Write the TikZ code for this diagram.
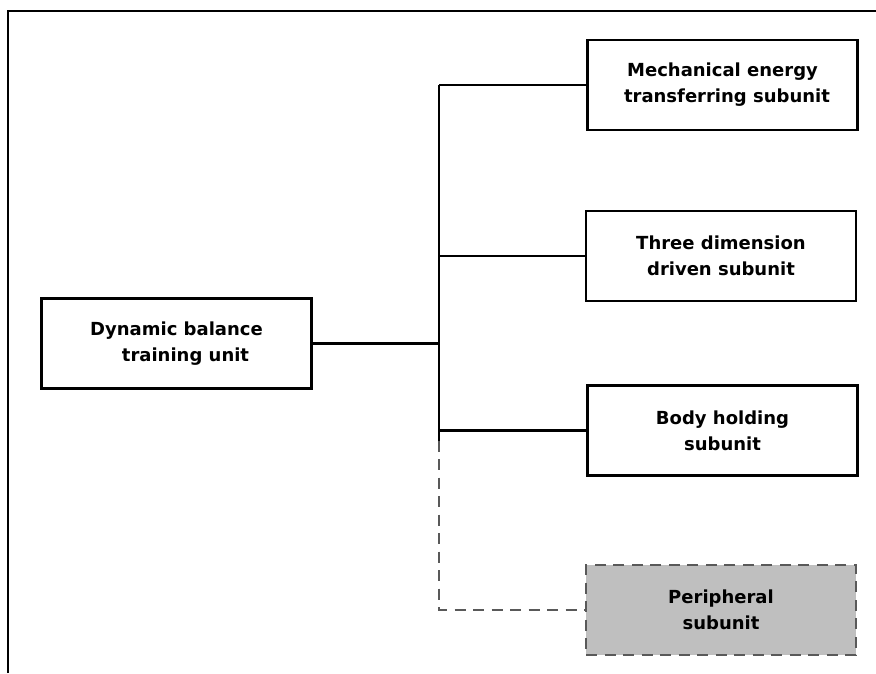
\documentclass[tikz,border=0pt]{standalone}
\usepackage{fontspec}
\setmainfont{DejaVu Sans}
\usetikzlibrary{calc}
\tikzset{
    unitbox/.style={draw, line width=2.8pt, minimum width=270pt, minimum height=90pt,
        align=center, font=\fontsize{18}{26}\selectfont\bfseries},
    extbox/.style={unitbox, draw=black!65, fill=black!25, dash pattern=on 11pt off 7.5pt},
    link/.style={line width=2.5pt},
    extlink/.style={link, draw=black!65, dash pattern=on 11pt off 7.5pt},
    frame/.style={line width=2pt},
}

\begin{document}
\begin{tikzpicture}[x=1pt, y=-1pt]
    \useasboundingbox (0,0) rectangle (876,673);
    \draw[frame] (8,673) -- (8,11) -- (876,11);
    \node[unitbox] (dynunit) at (176.5,343.5) {Dynamic balance\\\hspace*{1em}training unit};
    \node[unitbox] (mech) at (722.5,85) {Mechanical energy\\\hspace*{0.5em}transferring subunit};
    \node[unitbox] (threed) at (721,256) {Three dimension\\driven subunit};
    \node[unitbox] (body) at (722.5,430.5) {Body holding\\subunit};
    \node[extbox] (periph) at (721,610) {Peripheral\\subunit};
    \coordinate (trunk) at (439,0);
    \coordinate (trunkend) at ($(body.west -| trunk)+(0,10)$);
    \draw[link] (dynunit.east) -- (dynunit.east -| trunk);
    \draw[link] (mech.west -| trunk) -- (trunkend);
    \foreach \n in {mech,threed,body} \draw[link] (\n.west -| trunk) -- (\n.west);
    \draw[extlink] (trunkend) |- (periph.west);
\end{tikzpicture}
\end{document}
